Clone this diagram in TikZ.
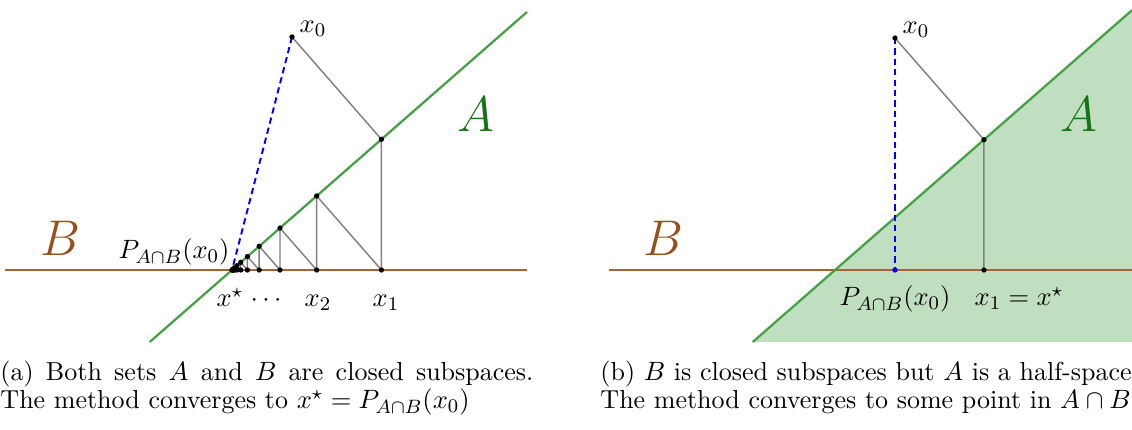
\documentclass[tikz,border=0pt]{standalone}
\usetikzlibrary{calc}
\definecolor{Aline}{RGB}{72,160,72}
\definecolor{Afill}{RGB}{192,222,192}
\definecolor{Atext}{RGB}{20,115,20}
\definecolor{Bline}{RGB}{165,100,55}
\definecolor{Btext}{RGB}{150,80,30}
\tikzset{
 setA/.style={draw=Aline, line width=0.95pt},
 setB/.style={draw=Bline, line width=0.95pt},
 proj/.style={draw=gray, line width=0.6pt},
 direct/.style={draw=blue, line width=0.8pt, dash pattern=on 2.6pt off 1.7pt},
 lbl/.style={font=\fontsize{11.3}{13}\selectfont, inner sep=0pt},
 setlbl/.style={font=\fontsize{19.5}{23}\selectfont, inner sep=0pt},
 captext/.style={font=\fontsize{10.75}{11.6}\selectfont, inner sep=0pt, anchor=base west},
}
\begin{document}
\begin{tikzpicture}[x=0.41343pt, y=-0.41343pt]
\useasboundingbox (0,0) rectangle (1132,430);
% ---------- left panel ----------
\coordinate (xs) at (232,270);
\coordinate (Ab) at (149.7,342);
\coordinate (At) at (527,12);
\coordinate (Bl) at (5,270);
\coordinate (Br) at (527,270);
\coordinate (x0) at (292,37);
\draw[setB] (Bl) -- (Br);
\draw[setA] (Ab) -- (At);
\draw[direct] (x0) -- (xs);
\coordinate (q0) at (x0);
\foreach \i [remember=\i as \j (initially 0)] in {1,...,12} {
  \coordinate (p\i) at ($(Ab)!(q\j)!(At)$);
  \coordinate (q\i) at (p\i |- xs);
  \draw[proj] (q\j) -- (p\i) -- (q\i);
}
\foreach \i in {1,...,12} { \fill (p\i) circle (1.1pt) (q\i) circle (1.1pt); }
\fill (x0) circle (1.1pt) (xs) circle (1.1pt);
\node[lbl] (lx0) at (313,29) {$x_0$};
\node[setlbl, text=Atext] (lA) at (476,114) {$A$};
\node[setlbl, text=Btext] (lB) at (60,238) {$B$};
\node[lbl, anchor=base east] (lP) at (230,259) {$P_{A\cap B}(x_0)$};
\node[lbl, anchor=base] (lxs) at (230,307) {$x^\star$};
\node[lbl, anchor=base] (ldots) at (266,307) {$\cdots$};
\node[lbl, anchor=base] (lx2) at (318,307) {$x_2$};
\node[lbl, anchor=base] (lx1) at (386,307) {$x_1$};
% ---------- right panel ----------
\coordinate (xsR) at (835,270);
\coordinate (AbR) at (752.7,342);
\coordinate (AtR) at (1132,10.2);
\coordinate (cR) at (1132,342);
\coordinate (BlR) at (609,270);
\coordinate (BrR) at (1132,270);
\coordinate (x0R) at (895,38);
\coordinate (PR) at (x0R |- xsR);
\coordinate (p1R) at ($(AbR)!(x0R)!(AtR)$);
\coordinate (x1R) at (p1R |- xsR);
\fill[Afill] (AbR) -- (AtR) -- (cR) -- cycle;
\draw[setB] (BlR) -- (BrR);
\draw[setA] (AbR) -- (AtR);
\draw[proj] (x0R) -- (p1R) -- (x1R);
\draw[direct] (x0R) -- (PR);
\fill (x0R) circle (1.1pt) (p1R) circle (1.1pt) (x1R) circle (1.1pt);
\fill[blue] (PR) circle (1.1pt);
\node[lbl] (lx0R) at (916,30) {$x_0$};
\node[setlbl, text=Atext] (lAR) at (1079,114) {$A$};
\node[setlbl, text=Btext] (lBR) at (663,238) {$B$};
\node[lbl, anchor=base] (lPR) at (895,306) {$P_{A\cap B}(x_0)$};
\node[lbl, anchor=base] (lx1R) at (1019,306) {$x_1 = x^\star$};
% ---------- captions ----------
\node[captext] (capa1) at (0,381) {\makebox[220.36pt][s]{(a) Both sets $A$ and $B$ are closed subspaces.}};
\node[captext] (capa2) at (0,409) {The method converges to $x^\star = P_{A\cap B}(x_0)$};
\node[captext] (capb1) at (600,381) {(b) $B$ is closed subspaces but $A$ is a half-space.};
\node[captext] (capb2) at (600,409) {The method converges to some point in $A\cap B$.};
\end{tikzpicture}
\end{document}
